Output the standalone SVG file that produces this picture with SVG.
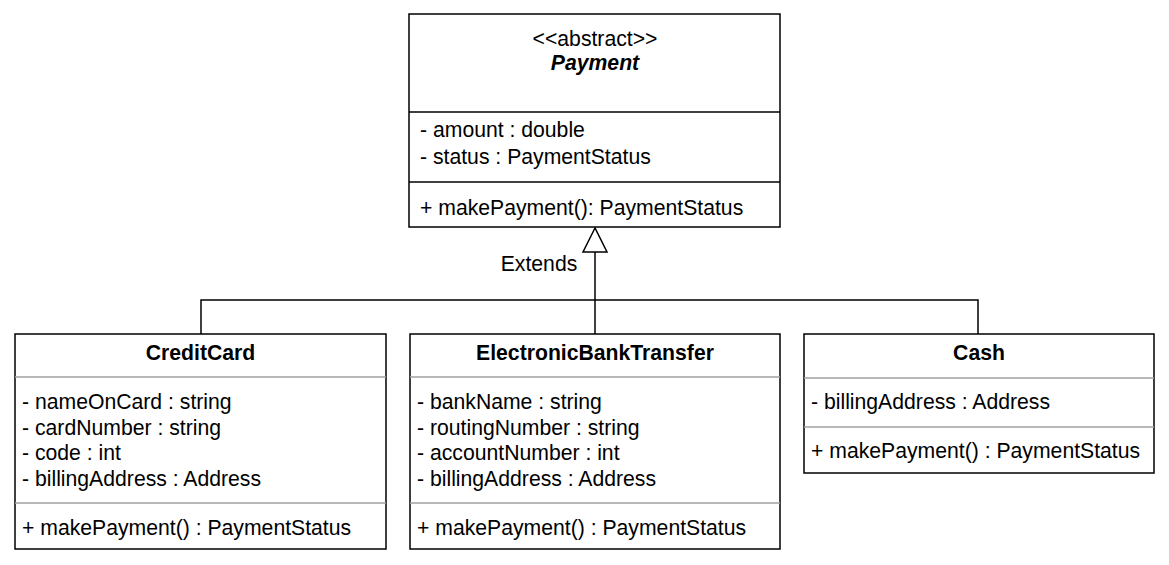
<svg xmlns="http://www.w3.org/2000/svg" width="1169" height="565" viewBox="0 0 1169 565">
<style>
.box{fill:#fff;stroke:#000;stroke-width:1.5}
.sep{stroke:#000;stroke-width:1.3}
.sepg{stroke:#a0a0a0;stroke-width:1.5}
.t{font-family:"Liberation Sans",Arial,sans-serif;font-size:21.2px;fill:#000}
.c{text-anchor:middle}
.b{font-weight:bold}
.edge{fill:none;stroke:#000;stroke-width:1.5}
</style>
<rect width="1169" height="565" fill="#fff"/>
<g id="connectors">
<path class="edge" d="M201 334V300H978V334"/>
<path class="edge" d="M595 334V252"/>
<polygon points="595,228 583,252 607,252" fill="#fff" stroke="#000" stroke-width="1.5"/>
<text class="t c" x="539" y="271">Extends</text>
</g>
<g id="payment">
<rect class="box" x="409" y="14" width="371" height="213"/>
<line class="sep" x1="409" y1="112" x2="780" y2="112"/>
<line class="sep" x1="409" y1="182" x2="780" y2="182"/>
<text class="t c" x="595" y="46">&lt;&lt;abstract&gt;&gt;</text>
<text class="t c b" x="595" y="70" font-style="italic">Payment</text>
<text class="t" x="420" y="137">- amount : double</text>
<text class="t" x="420" y="164">- status : PaymentStatus</text>
<text class="t" x="420" y="215">+ makePayment(): PaymentStatus</text>
</g>
<g id="creditcard">
<rect class="box" x="15" y="334" width="371" height="215"/>
<line class="sepg" x1="15" y1="377" x2="386" y2="377"/>
<line class="sepg" x1="15" y1="503" x2="386" y2="503"/>
<text class="t c b" x="200.5" y="360">CreditCard</text>
<text class="t" x="22" y="409">- nameOnCard : string</text>
<text class="t" x="22" y="435">- cardNumber : string</text>
<text class="t" x="22" y="460">- code : int</text>
<text class="t" x="22" y="486">- billingAddress : Address</text>
<text class="t" x="22" y="535">+ makePayment() : PaymentStatus</text>
</g>
<g id="electronicbanktransfer">
<rect class="box" x="410" y="334" width="370" height="215"/>
<line class="sepg" x1="410" y1="377" x2="780" y2="377"/>
<line class="sepg" x1="410" y1="503" x2="780" y2="503"/>
<text class="t c b" x="595" y="360">ElectronicBankTransfer</text>
<text class="t" x="417" y="409">- bankName : string</text>
<text class="t" x="417" y="435">- routingNumber : string</text>
<text class="t" x="417" y="460">- accountNumber : int</text>
<text class="t" x="417" y="486">- billingAddress : Address</text>
<text class="t" x="417" y="535">+ makePayment() : PaymentStatus</text>
</g>
<g id="cash">
<rect class="box" x="804" y="334" width="350" height="139"/>
<line class="sepg" x1="804" y1="378" x2="1154" y2="378"/>
<line class="sepg" x1="804" y1="427" x2="1154" y2="427"/>
<text class="t c b" x="979" y="360">Cash</text>
<text class="t" x="811" y="409">- billingAddress : Address</text>
<text class="t" x="811" y="458">+ makePayment() : PaymentStatus</text>
</g>
</svg>
